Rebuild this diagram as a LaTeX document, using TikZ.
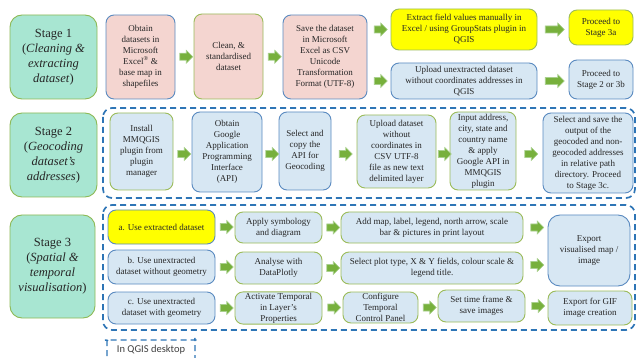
\documentclass[tikz,border=0pt]{standalone}
\usepackage{fontspec}
\setmainfont{Liberation Serif}
\newfontfamily\calib{Carlito}
\usetikzlibrary{shapes.arrows,calc}
\definecolor{stagefill}{HTML}{A8E6D2}
\definecolor{stageborder}{HTML}{8DB955}
\definecolor{pinkfill}{HTML}{F4D5D0}
\definecolor{bluefill}{HTML}{D7E7F3}
\definecolor{blueborder}{HTML}{5A8AC0}
\definecolor{greenborder}{HTML}{9BBB59}
\definecolor{yel}{HTML}{FFFF00}
\definecolor{arrowfill}{HTML}{77B03C}
\definecolor{arrowedge}{HTML}{A9D08E}
\definecolor{dashblue}{HTML}{2E75B6}
\definecolor{txt}{HTML}{262626}
\tikzset{
  base/.style={rounded corners=8pt, line width=0.9pt, align=center, inner sep=1pt,
    font=\fontsize{9}{11}\selectfont, text=txt},
  sz/.style 2 args={minimum width=#1pt, minimum height=#2pt},
  stagebox/.style={base, rounded corners=12pt, fill=stagefill, draw=stageborder,
    font=\fontsize{12.5}{15}\selectfont},
  pinkB/.style={base, fill=pinkfill, draw=blueborder},
  pinkG/.style={base, fill=pinkfill, draw=greenborder},
  yelG/.style={base, fill=yel, draw=greenborder},
  yelB/.style={base, fill=yel, draw=blueborder},
  blueB/.style={base, fill=bluefill, draw=blueborder},
  blueG/.style={base, fill=bluefill, draw=greenborder},
  barrow/.style={shape=single arrow, fill=arrowfill, draw=arrowedge, line width=0.6pt,
    inner sep=3.2pt, single arrow head extend=3pt, single arrow head indent=0pt,
    minimum height=13pt},
  dashbox/.style={draw=dashblue, line width=1.7pt, dash pattern=on 6pt off 4pt,
    rounded corners=9pt},
}
\begin{document}
\begin{tikzpicture}[x=1pt,y=-1pt]
\useasboundingbox (0,0) rectangle (637,358);
% Stage 1
\node[stagebox, sz={87}{84}] (s1) at (53.5,57) {Stage 1\\(\textit{Cleaning \&}\\\textit{extracting}\\\textit{dataset})};
\node[pinkB, sz={69}{84}] (obtain) at (140.5,57) {Obtain\\datasets in\\Microsoft\\Excel\textsuperscript{®} \&\\base map in\\shapefiles};
\node[pinkG, sz={69}{85}] (clean) at (228.5,56.5) {Clean, \&\\standardised\\dataset};
\node[pinkB, sz={84}{84}] (save) at (325,57) {Save the dataset\\in Microsoft\\Excel as CSV\\Unicode\\Transformation\\Format (UTF-8)};
\node[yelG, sz={146}{41}] (extract) at (464,29.5) {Extract field values manually in\\Excel / using GroupStats plugin in\\QGIS};
\node[yelG, sz={64}{35}] (p3a) at (601,27.5) {Proceed to\\Stage 3a};
\node[blueB, sz={146}{36}] (upload) at (464,81) {Upload unextracted dataset\\without coordinates addresses in\\QGIS};
\node[blueB, sz={64}{39}] (p2) at (601,79.5) {Proceed to\\Stage 2 or 3b};
\node[barrow] at ($(obtain.east)!0.5!(clean.west)$) {};
\node[barrow] at ($(clean.east)!0.5!(save.west)$) {};
\node[barrow] at ($(save.east |- extract)!0.5!(extract.west)$) {};
\node[barrow] at ($(save.east |- upload)!0.5!(upload.west)$) {};
\node[barrow, minimum height=19pt] at ($(extract.east)!0.5!(p3a.west |- extract)$) {};
\node[barrow, minimum height=19pt] at ($(upload.east)!0.5!(p2.west |- upload)$) {};
% Stage 2
\draw[dashbox] (103,108) rectangle (635,198);
\node[stagebox, sz={87}{84}] (s2) at (53.5,155) {Stage 2\\(\textit{Geocoding}\\\textit{dataset's}\\\textit{addresses})};
\node[blueG, sz={63}{77}] (install) at (141.5,151.5) {Install\\MMQGIS\\plugin from\\plugin\\manager};
\node[blueB, sz={70}{80}] (google) at (227,152) {Obtain\\Google\\Application\\Programming\\Interface\\(API)};
\node[blueB, sz={52}{78}] (selcopy) at (305,151) {Select and\\copy the\\API for\\Geocoding};
\node[blueG, sz={79}{73}] (upload2) at (396.5,151.5) {Upload dataset\\without\\coordinates in\\CSV UTF-8\\file as new text\\delimited layer};
\node[blueG, sz={66}{78}] (input) at (483,151) {Input address,\\city, state and\\country name\\\& apply\\Google API in\\MMQGIS\\plugin};
\node[blueB, sz={90}{80}] (selsave) at (588,153) {Select and save the\\output of the\\geocoded and non-\\geocoded addresses\\in relative path\\directory. Proceed\\to Stage 3c.};
\node[barrow] at ($(install.east |- 0,154)!0.5!(google.west |- 0,154)$) {};
\node[barrow] at ($(google.east |- 0,154)!0.5!(selcopy.west |- 0,154)$) {};
\node[barrow] at ($(selcopy.east |- 0,154)!0.5!(upload2.west |- 0,154)$) {};
\node[barrow] at ($(upload2.east |- 0,154)!0.5!(input.west |- 0,154)$) {};
\node[barrow] at ($(input.east |- 0,154)!0.5!(selsave.west |- 0,154)$) {};
% Stage 3
\draw[dashbox] (103,205) rectangle (635,330);
\node[stagebox, sz={85}{103}] (s3) at (52.5,266.5) {Stage 3\\(\textit{Spatial \&}\\\textit{temporal}\\\textit{visualisation})};
\node[yelB, sz={107}{34}] (a) at (161.5,227) {a. Use extracted dataset};
\node[blueB, sz={107}{34}] (b) at (161.5,267) {b. Use unextracted\\dataset without geometry};
\node[blueB, sz={107}{32}] (c) at (161.5,308) {c. Use unextracted\\dataset with geometry};
\node[blueG, sz={87}{31}] (apply) at (278.5,227.5) {Apply symbology\\and diagram};
\node[blueG, sz={87}{32}] (analyse) at (278.5,268) {Analyse with\\DataPlotly};
\node[blueG, sz={87}{32}] (activate) at (278.5,308) {Activate Temporal\\in Layer's\\Properties};
\node[blueG, sz={182}{31}] (addmap) at (432,227.5) {Add map, label, legend, north arrow, scale\\bar \& pictures in print layout};
\node[blueG, sz={182}{32}] (selplot) at (432,268) {Select plot type, X \& Y fields, colour scale \&\\legend title.};
\node[blueG, sz={75}{31}] (config) at (380.5,307.5) {Configure\\Temporal\\Control Panel};
\node[blueG, sz={87}{32}] (settime) at (481.5,306) {Set time frame \&\\save images};
\node[blueB, rounded corners=12pt, sz={82}{71}] (exportvis) at (589,250.5) {Export\\visualised map /\\image};
\node[blueG, sz={84}{34}] (exportgif) at (590,308) {Export for GIF\\image creation};
\node[barrow] at ($(a.east)!0.5!(apply.west |- a)$) {};
\node[barrow] at ($(b.east)!0.5!(analyse.west |- b)$) {};
\node[barrow] at ($(c.east)!0.5!(activate.west |- c)$) {};
\node[barrow] at ($(apply.east)!0.5!(addmap.west |- apply)$) {};
\node[barrow] at ($(analyse.east)!0.5!(selplot.west |- analyse)$) {};
\node[barrow] at ($(activate.east |- config)!0.5!(config.west)$) {};
\node[barrow] at ($(config.east)!0.5!(settime.west |- config)$) {};
\node[barrow] at ($(addmap.east)!0.5!(exportvis.west |- addmap)$) {};
\node[barrow] at ($(selplot.east |- 0,265)!0.5!(exportvis.west |- 0,265)$) {};
\node[barrow] at ($(settime.east)!0.5!(exportgif.west |- settime)$) {};
% legend
\draw[dashbox, line width=1.4pt] (107,366) -- (107,347) arc[start angle=180,end angle=90,radius=7pt] -- (188,340) arc[start angle=90,end angle=0,radius=7pt] -- (195,366);
\node[font=\calib\fontsize{10.5}{12}\selectfont, text=black!75, inner sep=0pt] (qgis) at (151,350) {In QGIS desktop};
\end{tikzpicture}
\end{document}
